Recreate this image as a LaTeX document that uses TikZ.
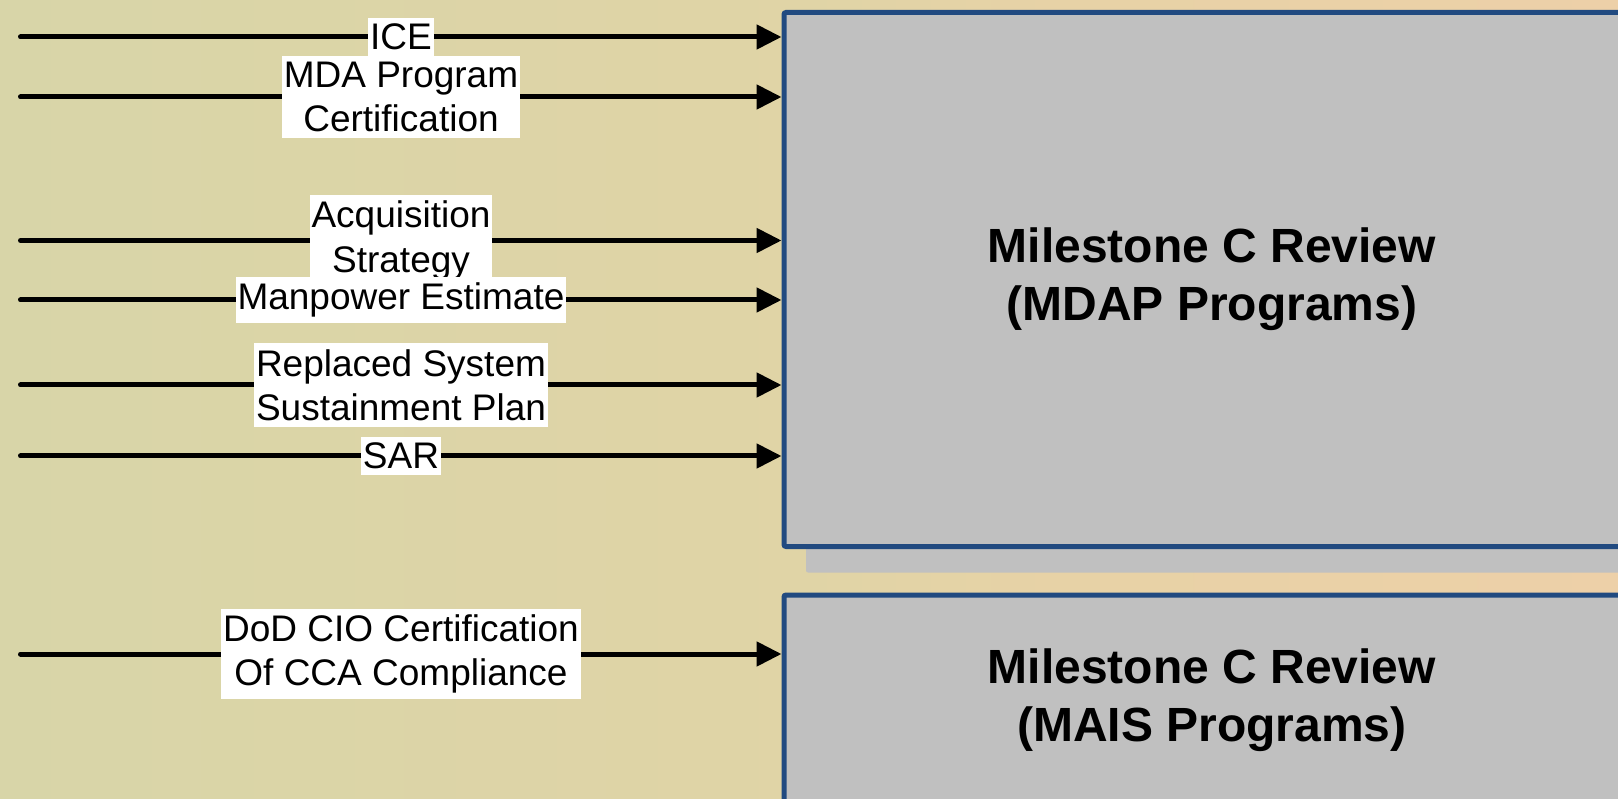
\documentclass[tikz,border=0pt]{standalone}
\usepackage{fontspec}
\setmainfont{Liberation Sans}
\usetikzlibrary{arrows.meta,shadows}
\definecolor{bgA}{RGB}{216,213,168}
\definecolor{bgB}{RGB}{224,212,166}
\definecolor{bgC}{RGB}{231,210,166}
\definecolor{bgD}{RGB}{237,208,168}
\definecolor{boxfill}{RGB}{192,192,192}
\definecolor{boxline}{RGB}{33,74,128}
\pgfdeclarehorizontalshading{bgshade}{100bp}{color(0bp)=(bgA); color(25bp)=(bgA); color(50bp)=(bgB); color(57.5bp)=(bgC); color(75bp)=(bgD); color(100bp)=(bgD)}
\begin{document}
\begin{tikzpicture}[x=1pt,y=-1pt,
  stage/.style={draw=boxline, line width=5pt, fill=boxfill, rounded corners=2pt,
    font=\bfseries\fontsize{48}{58}\selectfont, align=center},
  conn/.style={line width=5pt, line cap=round, -{Triangle[length=25pt,width=24pt]}},
  lbl/.style={fill=white, font=\fontsize{37}{44.4}\selectfont, align=center,
    inner xsep=2pt, inner ysep=6pt, line width=0pt}]
\useasboundingbox (0,0) rectangle (1618,799);
\clip (0,0) rectangle (1618,799);
\shade[shading=bgshade] (0,0) rectangle (1618,799);

\node[stage, minimum width=856pt, minimum height=534pt,
  drop shadow={shadow xshift=22pt, shadow yshift=-26pt, fill=boxfill, opacity=1, draw=none}]
  (mdap) at (1212,279.5) {Milestone C Review\\(MDAP Programs)};
\node[stage, minimum width=856pt, minimum height=210pt]
  (mais) at (1212,700) {Milestone C Review\\(MAIS Programs)};

\coordinate (s1) at (20.5,37);
\coordinate (s2) at (20.5,97);
\coordinate (s3) at (20.5,240.5);
\coordinate (s4) at (20.5,300);
\coordinate (s5) at (20.5,385);
\coordinate (s6) at (20.5,456);
\coordinate (s7) at (20.5,654);

\draw[conn] (s1) -- node[lbl] (l1) {ICE} (s1 -| mdap.west);
\draw[conn] (s2) -- node[lbl] (l2) {MDA Program\\Certification} (s2 -| mdap.west);
\draw[conn] (s3) -- node[lbl] (l3) {Acquisition\\Strategy} (s3 -| mdap.west);
\draw[conn] (s4) -- node[lbl] (l4) {Manpower Estimate} (s4 -| mdap.west);
\draw[conn] (s5) -- node[lbl] (l5) {Replaced System\\Sustainment Plan} (s5 -| mdap.west);
\draw[conn] (s6) -- node[lbl] (l6) {SAR} (s6 -| mdap.west);
\draw[conn] (s7) -- node[lbl] (l7) {DoD CIO Certification\\Of CCA Compliance} (s7 -| mais.west);
\end{tikzpicture}
\end{document}
